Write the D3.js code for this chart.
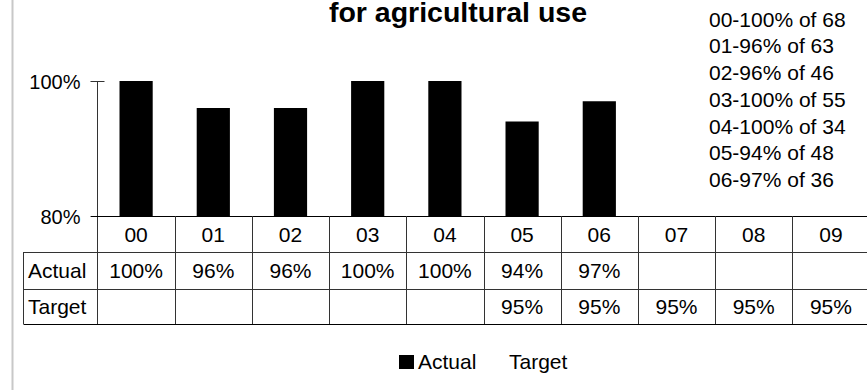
<!DOCTYPE html>
<html>
<head>
<meta charset="utf-8">
<script src="https://cdn.jsdelivr.net/npm/d3@7"></script>
<style>
  body { margin: 0; background: #fff; }
  svg { display: block; font-family: "Liberation Sans", Arial, sans-serif; }
</style>
</head>
<body>
<div id="chart"></div>
<script>
// data
var years = ["00", "01", "02", "03", "04", "05", "06", "07", "08", "09"];
var actual = [100, 96, 96, 100, 100, 94, 97, null, null, null];
var target = [null, null, null, null, null, 95, 95, 95, 95, 95];
var counts = [68, 63, 46, 55, 34, 48, 36];
var yTicks = [80, 100];

var width = 867, height = 390;

var svg = d3.select("#chart")
  .append("svg")
    .attr("width", width)
    .attr("height", height);

// left frame edge
svg.append("line")
  .attr("x1", 12.5).attr("x2", 12.5)
  .attr("y1", 0).attr("y2", height)
  .attr("stroke", "#c8c8c8")
  .attr("stroke-width", 2);

// title (only the second line is in view)
svg.append("text")
  .attr("x", 458)
  .attr("y", 22)
  .attr("text-anchor", "middle")
  .style("font-size", "28.5px")
  .style("font-weight", "bold")
  .text("for agricultural use");

// scales
var x = d3.scaleBand()
  .domain(years)
  .range([97.5, 97.5 + 77.2 * years.length]);

var y = d3.scaleLinear()
  .domain([80, 100])
  .range([216, 81]);

var pct = function(d) { return d + "%"; };

// bars
var barW = x.bandwidth() * 0.43;
svg.selectAll("rect.bar")
  .data(years.map(function(d, i) { return {year: d, value: actual[i]}; })
    .filter(function(d) { return d.value != null; }))
  .enter()
  .append("rect")
    .attr("class", "bar")
    .attr("x", function(d) { return x(d.year) + (x.bandwidth() - barW) / 2; })
    .attr("width", barW)
    .attr("y", function(d) { return y(d.value); })
    .attr("height", function(d) { return y(80) - y(d.value); })
    .attr("fill", "#000");

// y axis
var yAxis = svg.append("g")
  .attr("transform", "translate(97.5,0)")
  .call(d3.axisLeft(y).tickValues(yTicks).tickFormat(pct).tickSize(7).tickPadding(10));
yAxis.select(".domain").remove();
yAxis.selectAll("text")
  .style("font-size", "20px")
  .attr("fill", "#000")
  .attr("dy", "0.35em");
yAxis.selectAll("line").attr("stroke", "#333");

svg.append("g")
  .attr("transform", "translate(97.5,0)")
  .call(d3.axisRight(y).tickValues([100]).tickFormat("").tickSize(7))
  .call(function(g) { g.select(".domain").remove(); })
  .selectAll("line").attr("stroke", "#333");

// data table
var rowTop = [216, 252, 289, 324];
var right = 97.5 + 77.2 * years.length;
var tbl = svg.append("g").attr("stroke", "#333").attr("stroke-width", 1);

// y axis line runs down through the table
tbl.append("line")
  .attr("x1", 97.5).attr("x2", 97.5)
  .attr("y1", y(100)).attr("y2", rowTop[3]);

tbl.append("line")
  .attr("x1", 91).attr("x2", right)
  .attr("y1", rowTop[0] + 0.5).attr("y2", rowTop[0] + 0.5)
  .attr("stroke", "#000");
[1, 2].forEach(function(r) {
  tbl.append("line")
    .attr("x1", 23.5).attr("x2", right)
    .attr("y1", rowTop[r] + 0.5).attr("y2", rowTop[r] + 0.5);
});
tbl.append("line")
  .attr("x1", 23.5).attr("x2", right)
  .attr("y1", rowTop[3] + 0.5).attr("y2", rowTop[3] + 0.5)
  .attr("stroke", "#000");
tbl.append("line")
  .attr("x1", 23.5).attr("x2", 23.5)
  .attr("y1", rowTop[1]).attr("y2", rowTop[3]);

tbl.selectAll("line.col")
  .data(years.slice(1))
  .enter()
  .append("line")
    .attr("class", "col")
    .attr("x1", function(d) { return Math.round(x(d)) + 0.5; })
    .attr("x2", function(d) { return Math.round(x(d)) + 0.5; })
    .attr("y1", rowTop[0])
    .attr("y2", rowTop[3]);

function rowText(vals, r, fmt) {
  svg.append("g").selectAll("text")
    .data(years.map(function(d, i) { return {year: d, v: vals[i]}; })
      .filter(function(d) { return d.v != null; }))
    .enter()
    .append("text")
      .attr("x", function(d) { return x(d.year) + x.bandwidth() / 2; })
      .attr("y", (rowTop[r] + rowTop[r + 1]) / 2 + 7.5)
      .attr("text-anchor", "middle")
      .style("font-size", "21px")
      .text(function(d) { return fmt(d.v); });
}
rowText(years, 0, function(d) { return d; });
rowText(actual, 1, pct);
rowText(target, 2, pct);

["Actual", "Target"].forEach(function(lbl, i) {
  svg.append("text")
    .attr("x", 28)
    .attr("y", (rowTop[i + 1] + rowTop[i + 2]) / 2 + 7.5)
    .style("font-size", "21px")
    .text(lbl);
});

// notes at top right
svg.append("g").selectAll("text")
  .data(counts)
  .enter()
  .append("text")
    .attr("x", 709)
    .attr("y", function(d, i) { return 26.5 + i * 26.75; })
    .style("font-size", "21px")
    .text(function(d, i) { return years[i] + "-" + actual[i] + "% of " + d; });

// legend
svg.append("rect")
  .attr("x", 399).attr("y", 355)
  .attr("width", 15).attr("height", 14)
  .attr("fill", "#000");
svg.append("text")
  .attr("x", 418).attr("y", 369)
  .style("font-size", "21px")
  .text("Actual");
svg.append("text")
  .attr("x", 509).attr("y", 369)
  .style("font-size", "21px")
  .text("Target");
</script>
</body>
</html>
